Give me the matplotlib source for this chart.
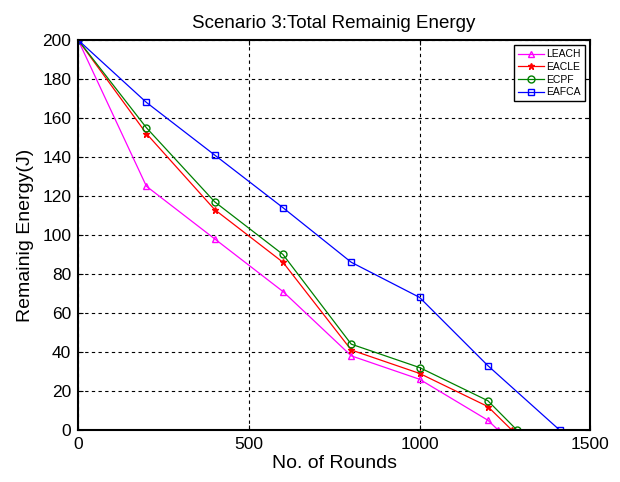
import matplotlib
matplotlib.use("Agg")
import matplotlib.pyplot as plt

plt.rcParams['font.family'] = ['Liberation Sans', 'DejaVu Sans']

# rounds and remaining energy per protocol
leach_x = [0, 200, 400, 600, 800, 1000, 1200, 1230]
leach_y = [200, 125, 98, 71, 38, 26, 5, 0]
eacle_x = [0, 200, 400, 600, 800, 1000, 1200, 1270]
eacle_y = [200, 152, 113, 86, 41, 29, 12, 0]
ecpf_x = [0, 200, 400, 600, 800, 1000, 1200, 1285]
ecpf_y = [200, 155, 117, 90, 44, 32, 15, 0]
eafca_x = [0, 200, 400, 600, 800, 1000, 1200, 1410]
eafca_y = [200, 168, 141, 114, 86, 68, 33, 0]

fig = plt.figure(figsize=(6.2, 4.82), dpi=100)
ax = fig.add_axes([0.126, 0.108, 0.826, 0.809])

ax.plot(leach_x, leach_y, color='magenta', marker='^', mfc='none', ms=5, lw=0.9, label='LEACH')
ax.plot(eacle_x, eacle_y, color='red', marker='*', ms=4.5, lw=0.9, label='EACLE')
ax.plot(ecpf_x, ecpf_y, color='green', marker='o', mfc='none', ms=5, lw=0.9, label='ECPF')
ax.plot(eafca_x, eafca_y, color='blue', marker='s', mfc='none', ms=5, lw=0.9, label='EAFCA')

ax.set_xlim(0, 1500)
ax.set_ylim(0, 200)
ax.set_xticks([0, 500, 1000, 1500])
ax.set_yticks(range(0, 201, 20))
ax.grid(True, color='black', linestyle=(0, (3, 3)), linewidth=0.8)
ax.tick_params(direction='in', labelsize=12.5, top=True, right=True, pad=5)
for s in ax.spines.values():
    s.set_linewidth(1.5)

ax.set_xlabel('No. of Rounds', fontsize=14, labelpad=2)
ax.set_ylabel('Remainig Energy(J)', fontsize=14, labelpad=6)
ax.set_title('Scenario 3:Total Remainig Energy', fontsize=13.5, pad=9)

leg = ax.legend(loc='upper right', fontsize=7.5, fancybox=False, framealpha=1,
                edgecolor='black', handlelength=2.5, borderpad=0.4,
                labelspacing=0.25, handletextpad=0.2)
leg.get_frame().set_linewidth(1.0)

fig.savefig('out.png', dpi=100)
